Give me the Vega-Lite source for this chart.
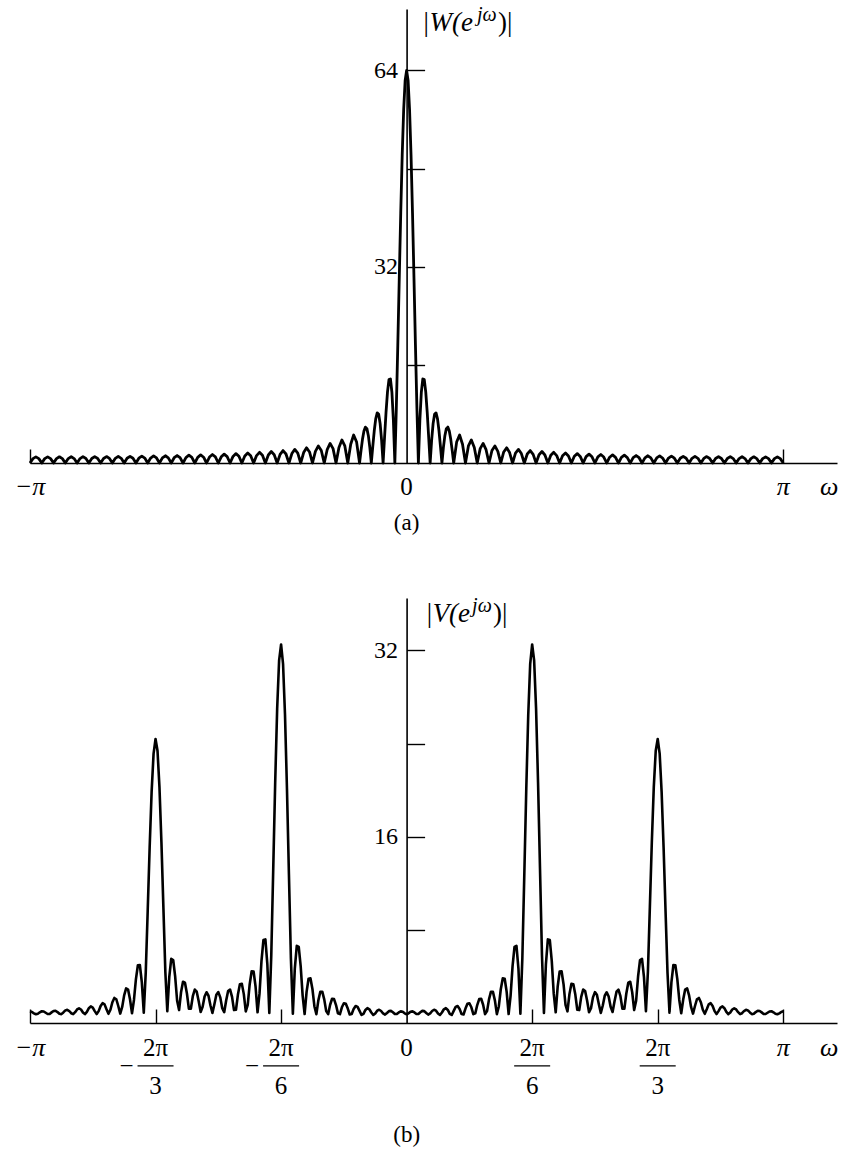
{
"$schema":"https://vega.github.io/schema/vega-lite/v6.json",
"background":"white",
"padding":{"left":14,"top":5,"right":0,"bottom":0},
"bounds":"flush",
"spacing":135,
"config":{"view":{"stroke":null},"text":{"font":"Liberation Serif","color":"black"},"axis":{"grid":false,"domainColor":"black","tickColor":"black","labelColor":"black","labelFont":"Liberation Serif"}},
"datasets":{
"a":[
{"w":-3.1416,"v":0},{"w":-3.117,"v":0.71},{"w":-3.0925,"v":1.0},{"w":-3.068,"v":0.71},{"w":-3.0434,"v":0},
{"w":-3.0189,"v":0.71},{"w":-2.9943,"v":1.0},{"w":-2.9698,"v":0.71},{"w":-2.9452,"v":0},
{"w":-2.9207,"v":0.71},{"w":-2.8962,"v":1.01},{"w":-2.8716,"v":0.71},{"w":-2.8471,"v":0},
{"w":-2.8225,"v":0.72},{"w":-2.798,"v":1.02},{"w":-2.7734,"v":0.72},{"w":-2.7489,"v":0},
{"w":-2.7243,"v":0.72},{"w":-2.6998,"v":1.03},{"w":-2.6753,"v":0.73},{"w":-2.6507,"v":0},
{"w":-2.6262,"v":0.73},{"w":-2.6016,"v":1.04},{"w":-2.5771,"v":0.74},{"w":-2.5525,"v":0},
{"w":-2.528,"v":0.74},{"w":-2.5035,"v":1.05},{"w":-2.4789,"v":0.75},{"w":-2.4544,"v":0},
{"w":-2.4298,"v":0.76},{"w":-2.4053,"v":1.07},{"w":-2.3807,"v":0.76},{"w":-2.3562,"v":0},
{"w":-2.3317,"v":0.77},{"w":-2.3071,"v":1.09},{"w":-2.2826,"v":0.78},{"w":-2.258,"v":0},
{"w":-2.2335,"v":0.79},{"w":-2.2089,"v":1.12},{"w":-2.1844,"v":0.8},{"w":-2.1598,"v":0},
{"w":-2.1353,"v":0.81},{"w":-2.1108,"v":1.15},{"w":-2.0862,"v":0.82},{"w":-2.0617,"v":0},
{"w":-2.0371,"v":0.83},{"w":-2.0126,"v":1.18},{"w":-1.988,"v":0.84},{"w":-1.9635,"v":0},
{"w":-1.939,"v":0.86},{"w":-1.9144,"v":1.22},{"w":-1.8899,"v":0.87},{"w":-1.8653,"v":0},
{"w":-1.8408,"v":0.89},{"w":-1.8162,"v":1.27},{"w":-1.7917,"v":0.91},{"w":-1.7671,"v":0},
{"w":-1.7426,"v":0.92},{"w":-1.7181,"v":1.32},{"w":-1.6935,"v":0.94},{"w":-1.669,"v":0},
{"w":-1.6444,"v":0.97},{"w":-1.6199,"v":1.38},{"w":-1.5953,"v":0.99},{"w":-1.5708,"v":0},
{"w":-1.5463,"v":1.01},{"w":-1.5217,"v":1.45},{"w":-1.4972,"v":1.04},{"w":-1.4726,"v":0},
{"w":-1.4481,"v":1.07},{"w":-1.4235,"v":1.53},{"w":-1.399,"v":1.1},{"w":-1.3744,"v":0},
{"w":-1.3499,"v":1.13},{"w":-1.3254,"v":1.63},{"w":-1.3008,"v":1.17},{"w":-1.2763,"v":0},
{"w":-1.2517,"v":1.21},{"w":-1.2272,"v":1.74},{"w":-1.2026,"v":1.25},{"w":-1.1781,"v":0},
{"w":-1.1536,"v":1.3},{"w":-1.129,"v":1.87},{"w":-1.1045,"v":1.35},{"w":-1.0799,"v":0},
{"w":-1.0554,"v":1.4},{"w":-1.0308,"v":2.03},{"w":-1.0063,"v":1.47},{"w":-0.9817,"v":0},
{"w":-0.9572,"v":1.54},{"w":-0.9327,"v":2.22},{"w":-0.9081,"v":1.61},{"w":-0.8836,"v":0},
{"w":-0.859,"v":1.7},{"w":-0.8345,"v":2.47},{"w":-0.8099,"v":1.8},{"w":-0.7854,"v":0},
{"w":-0.7609,"v":1.9},{"w":-0.7363,"v":2.78},{"w":-0.7118,"v":2.03},{"w":-0.6872,"v":0},
{"w":-0.6627,"v":2.17},{"w":-0.6381,"v":3.19},{"w":-0.6136,"v":2.34},{"w":-0.589,"v":0},
{"w":-0.5645,"v":2.54},{"w":-0.54,"v":3.75},{"w":-0.5154,"v":2.78},{"w":-0.4909,"v":0},
{"w":-0.4663,"v":3.06},{"w":-0.4418,"v":4.56},{"w":-0.4172,"v":3.41},{"w":-0.3927,"v":0},
{"w":-0.3804,"v":2.02},{"w":-0.3682,"v":3.86},{"w":-0.3559,"v":5.22},{"w":-0.3436,"v":5.85},{"w":-0.3313,"v":5.6},{"w":-0.3191,"v":4.45},{"w":-0.3068,"v":2.51},{"w":-0.2945,"v":0},
{"w":-0.2822,"v":2.72},{"w":-0.27,"v":5.25},{"w":-0.2577,"v":7.19},{"w":-0.2454,"v":8.17},{"w":-0.2332,"v":7.94},{"w":-0.2209,"v":6.42},{"w":-0.2086,"v":3.68},{"w":-0.1963,"v":0},
{"w":-0.1841,"v":4.16},{"w":-0.1718,"v":8.24},{"w":-0.1595,"v":11.59},{"w":-0.1473,"v":13.59},{"w":-0.135,"v":13.7},{"w":-0.1227,"v":11.53},{"w":-0.1104,"v":6.93},{"w":-0.0982,"v":0},
{"w":-0.0859,"v":8.91},{"w":-0.0736,"v":19.21},{"w":-0.0614,"v":30.12},{"w":-0.0491,"v":40.75},{"w":-0.0368,"v":50.19},{"w":-0.0245,"v":57.62},{"w":-0.0123,"v":62.37},
{"w":0,"v":64},
{"w":0.0123,"v":62.37},{"w":0.0245,"v":57.62},{"w":0.0368,"v":50.19},{"w":0.0491,"v":40.75},{"w":0.0614,"v":30.12},{"w":0.0736,"v":19.21},{"w":0.0859,"v":8.91},{"w":0.0982,"v":0},
{"w":0.1104,"v":6.93},{"w":0.1227,"v":11.53},{"w":0.135,"v":13.7},{"w":0.1473,"v":13.59},{"w":0.1595,"v":11.59},{"w":0.1718,"v":8.24},{"w":0.1841,"v":4.16},{"w":0.1963,"v":0},
{"w":0.2086,"v":3.68},{"w":0.2209,"v":6.42},{"w":0.2332,"v":7.94},{"w":0.2454,"v":8.17},{"w":0.2577,"v":7.19},{"w":0.27,"v":5.25},{"w":0.2822,"v":2.72},{"w":0.2945,"v":0},
{"w":0.3068,"v":2.51},{"w":0.3191,"v":4.45},{"w":0.3313,"v":5.6},{"w":0.3436,"v":5.85},{"w":0.3559,"v":5.22},{"w":0.3682,"v":3.86},{"w":0.3804,"v":2.02},{"w":0.3927,"v":0},
{"w":0.4172,"v":3.41},{"w":0.4418,"v":4.56},{"w":0.4663,"v":3.06},{"w":0.4909,"v":0},
{"w":0.5154,"v":2.78},{"w":0.54,"v":3.75},{"w":0.5645,"v":2.54},{"w":0.589,"v":0},
{"w":0.6136,"v":2.34},{"w":0.6381,"v":3.19},{"w":0.6627,"v":2.17},{"w":0.6872,"v":0},
{"w":0.7118,"v":2.03},{"w":0.7363,"v":2.78},{"w":0.7609,"v":1.9},{"w":0.7854,"v":0},
{"w":0.8099,"v":1.8},{"w":0.8345,"v":2.47},{"w":0.859,"v":1.7},{"w":0.8836,"v":0},
{"w":0.9081,"v":1.61},{"w":0.9327,"v":2.22},{"w":0.9572,"v":1.54},{"w":0.9817,"v":0},
{"w":1.0063,"v":1.47},{"w":1.0308,"v":2.03},{"w":1.0554,"v":1.4},{"w":1.0799,"v":0},
{"w":1.1045,"v":1.35},{"w":1.129,"v":1.87},{"w":1.1536,"v":1.3},{"w":1.1781,"v":0},
{"w":1.2026,"v":1.25},{"w":1.2272,"v":1.74},{"w":1.2517,"v":1.21},{"w":1.2763,"v":0},
{"w":1.3008,"v":1.17},{"w":1.3254,"v":1.63},{"w":1.3499,"v":1.13},{"w":1.3744,"v":0},
{"w":1.399,"v":1.1},{"w":1.4235,"v":1.53},{"w":1.4481,"v":1.07},{"w":1.4726,"v":0},
{"w":1.4972,"v":1.04},{"w":1.5217,"v":1.45},{"w":1.5463,"v":1.01},{"w":1.5708,"v":0},
{"w":1.5953,"v":0.99},{"w":1.6199,"v":1.38},{"w":1.6444,"v":0.97},{"w":1.669,"v":0},
{"w":1.6935,"v":0.94},{"w":1.7181,"v":1.32},{"w":1.7426,"v":0.92},{"w":1.7671,"v":0},
{"w":1.7917,"v":0.91},{"w":1.8162,"v":1.27},{"w":1.8408,"v":0.89},{"w":1.8653,"v":0},
{"w":1.8899,"v":0.87},{"w":1.9144,"v":1.22},{"w":1.939,"v":0.86},{"w":1.9635,"v":0},
{"w":1.988,"v":0.84},{"w":2.0126,"v":1.18},{"w":2.0371,"v":0.83},{"w":2.0617,"v":0},
{"w":2.0862,"v":0.82},{"w":2.1108,"v":1.15},{"w":2.1353,"v":0.81},{"w":2.1598,"v":0},
{"w":2.1844,"v":0.8},{"w":2.2089,"v":1.12},{"w":2.2335,"v":0.79},{"w":2.258,"v":0},
{"w":2.2826,"v":0.78},{"w":2.3071,"v":1.09},{"w":2.3317,"v":0.77},{"w":2.3562,"v":0},
{"w":2.3807,"v":0.76},{"w":2.4053,"v":1.07},{"w":2.4298,"v":0.76},{"w":2.4544,"v":0},
{"w":2.4789,"v":0.75},{"w":2.5035,"v":1.05},{"w":2.528,"v":0.74},{"w":2.5525,"v":0},
{"w":2.5771,"v":0.74},{"w":2.6016,"v":1.04},{"w":2.6262,"v":0.73},{"w":2.6507,"v":0},
{"w":2.6753,"v":0.73},{"w":2.6998,"v":1.03},{"w":2.7243,"v":0.72},{"w":2.7489,"v":0},
{"w":2.7734,"v":0.72},{"w":2.798,"v":1.02},{"w":2.8225,"v":0.72},{"w":2.8471,"v":0},
{"w":2.8716,"v":0.71},{"w":2.8962,"v":1.01},{"w":2.9207,"v":0.71},{"w":2.9452,"v":0},
{"w":2.9698,"v":0.71},{"w":2.9943,"v":1.0},{"w":3.0189,"v":0.71},{"w":3.0434,"v":0},
{"w":3.068,"v":0.71},{"w":3.0925,"v":1.0},{"w":3.117,"v":0.71},{"w":3.1416,"v":0}
],
"b":[
{"w":-3.1416,"v":1.0},{"w":-3.1252,"v":0.95},{"w":-3.1089,"v":0.83},{"w":-3.0925,"v":0.75},{"w":-3.0761,"v":0.8},{"w":-3.0598,"v":0.92},
{"w":-3.0434,"v":1.01},{"w":-3.027,"v":0.99},{"w":-3.0107,"v":0.88},{"w":-2.9943,"v":0.77},{"w":-2.978,"v":0.78},{"w":-2.9616,"v":0.91},
{"w":-2.9452,"v":1.03},{"w":-2.9289,"v":1.05},{"w":-2.9125,"v":0.94},{"w":-2.8962,"v":0.79},{"w":-2.8798,"v":0.76},{"w":-2.8634,"v":0.91},
{"w":-2.8471,"v":1.08},{"w":-2.8307,"v":1.13},{"w":-2.8143,"v":1.03},{"w":-2.798,"v":0.84},{"w":-2.7816,"v":0.76},{"w":-2.7653,"v":0.93},
{"w":-2.7489,"v":1.16},{"w":-2.7325,"v":1.26},{"w":-2.7162,"v":1.16},{"w":-2.6998,"v":0.91},{"w":-2.6834,"v":0.76},{"w":-2.6671,"v":0.96},
{"w":-2.6507,"v":1.27},{"w":-2.6344,"v":1.43},{"w":-2.618,"v":1.33},{"w":-2.6016,"v":1.02},{"w":-2.5853,"v":0.77},{"w":-2.5689,"v":1.02},
{"w":-2.5525,"v":1.46},{"w":-2.5362,"v":1.7},{"w":-2.5198,"v":1.6},{"w":-2.5035,"v":1.18},{"w":-2.4871,"v":0.79},{"w":-2.4707,"v":1.14},
{"w":-2.4544,"v":1.78},{"w":-2.438,"v":2.15},{"w":-2.4216,"v":2.04},{"w":-2.4053,"v":1.46},{"w":-2.3889,"v":0.81},{"w":-2.3726,"v":1.38},
{"w":-2.3562,"v":2.37},{"w":-2.3398,"v":2.97},{"w":-2.3235,"v":2.87},{"w":-2.3071,"v":2.01},{"w":-2.2907,"v":0.84},{"w":-2.2744,"v":1.98},
{"w":-2.258,"v":3.77},{"w":-2.2417,"v":4.96},{"w":-2.2253,"v":4.98},{"w":-2.2089,"v":3.51},{"w":-2.1926,"v":0.89},{"w":-2.1762,"v":4.31},
{"w":-2.1598,"v":9.62},{"w":-2.1435,"v":15.09},{"w":-2.1271,"v":19.85},{"w":-2.1108,"v":23.14},{"w":-2.0944,"v":24.39},{"w":-2.078,"v":23.38},
{"w":-2.0617,"v":20.26},{"w":-2.0453,"v":15.53},{"w":-2.0289,"v":9.93},{"w":-2.0126,"v":4.38},{"w":-1.9962,"v":1.02},{"w":-1.9799,"v":3.94},
{"w":-1.9635,"v":5.51},{"w":-1.9471,"v":5.41},{"w":-1.9308,"v":4.0},{"w":-1.9144,"v":1.91},{"w":-1.898,"v":1.11},{"w":-1.8817,"v":2.64},
{"w":-1.8653,"v":3.54},{"w":-1.849,"v":3.46},{"w":-1.8326,"v":2.53},{"w":-1.8162,"v":1.22},{"w":-1.7999,"v":1.23},{"w":-1.7835,"v":2.3},
{"w":-1.7671,"v":2.87},{"w":-1.7508,"v":2.69},{"w":-1.7344,"v":1.87},{"w":-1.7181,"v":0.95},{"w":-1.7017,"v":1.39},{"w":-1.6853,"v":2.27},
{"w":-1.669,"v":2.64},{"w":-1.6526,"v":2.34},{"w":-1.6362,"v":1.5},{"w":-1.6199,"v":0.87},{"w":-1.6035,"v":1.61},{"w":-1.5872,"v":2.42},
{"w":-1.5708,"v":2.65},{"w":-1.5544,"v":2.2},{"w":-1.5381,"v":1.27},{"w":-1.5217,"v":0.93},{"w":-1.5053,"v":1.93},{"w":-1.489,"v":2.74},
{"w":-1.4726,"v":2.87},{"w":-1.4563,"v":2.24},{"w":-1.4399,"v":1.11},{"w":-1.4235,"v":1.14},{"w":-1.4072,"v":2.44},{"w":-1.3908,"v":3.32},
{"w":-1.3744,"v":3.36},{"w":-1.3581,"v":2.48},{"w":-1.3417,"v":1.0},{"w":-1.3254,"v":1.56},{"w":-1.309,"v":3.33},{"w":-1.2926,"v":4.44},
{"w":-1.2763,"v":4.41},{"w":-1.2599,"v":3.11},{"w":-1.2435,"v":0.92},{"w":-1.2272,"v":2.52},{"w":-1.2108,"v":5.31},{"w":-1.1945,"v":7.12},
{"w":-1.1781,"v":7.18},{"w":-1.1617,"v":5.03},{"w":-1.1454,"v":0.86},{"w":-1.129,"v":5.83},{"w":-1.1126,"v":13.24},{"w":-1.0963,"v":20.67},
{"w":-1.0799,"v":26.98},{"w":-1.0636,"v":31.15},{"w":-1.0472,"v":32.51},{"w":-1.0308,"v":30.85},{"w":-1.0145,"v":26.47},{"w":-0.9981,"v":20.1},
{"w":-0.9817,"v":12.76},{"w":-0.9654,"v":5.59},{"w":-0.949,"v":0.79},{"w":-0.9327,"v":4.67},{"w":-0.9163,"v":6.63},{"w":-0.8999,"v":6.53},
{"w":-0.8836,"v":4.86},{"w":-0.8672,"v":2.33},{"w":-0.8508,"v":0.77},{"w":-0.8345,"v":2.67},{"w":-0.8181,"v":3.8},{"w":-0.8018,"v":3.83},
{"w":-0.7854,"v":2.9},{"w":-0.769,"v":1.42},{"w":-0.7527,"v":0.76},{"w":-0.7363,"v":1.94},{"w":-0.7199,"v":2.68},{"w":-0.7036,"v":2.69},
{"w":-0.6872,"v":2.03},{"w":-0.6709,"v":1.02},{"w":-0.6545,"v":0.76},{"w":-0.6381,"v":1.57},{"w":-0.6218,"v":2.08},{"w":-0.6054,"v":2.05},
{"w":-0.589,"v":1.54},{"w":-0.5727,"v":0.83},{"w":-0.5563,"v":0.76},{"w":-0.54,"v":1.35},{"w":-0.5236,"v":1.7},{"w":-0.5072,"v":1.65},
{"w":-0.4909,"v":1.24},{"w":-0.4745,"v":0.73},{"w":-0.4581,"v":0.77},{"w":-0.4418,"v":1.21},{"w":-0.4254,"v":1.46},{"w":-0.4091,"v":1.38},
{"w":-0.3927,"v":1.04},{"w":-0.3763,"v":0.69},{"w":-0.36,"v":0.79},{"w":-0.3436,"v":1.12},{"w":-0.3272,"v":1.28},{"w":-0.3109,"v":1.18},
{"w":-0.2945,"v":0.9},{"w":-0.2782,"v":0.69},{"w":-0.2618,"v":0.82},{"w":-0.2454,"v":1.06},{"w":-0.2291,"v":1.14},{"w":-0.2127,"v":1.03},
{"w":-0.1963,"v":0.82},{"w":-0.18,"v":0.72},{"w":-0.1636,"v":0.86},{"w":-0.1473,"v":1.02},{"w":-0.1309,"v":1.04},{"w":-0.1145,"v":0.92},
{"w":-0.0982,"v":0.77},{"w":-0.0818,"v":0.77},{"w":-0.0654,"v":0.91},{"w":-0.0491,"v":1.0},{"w":-0.0327,"v":0.97},{"w":-0.0164,"v":0.83},
{"w":0,"v":0.75},
{"w":0.0164,"v":0.83},{"w":0.0327,"v":0.97},{"w":0.0491,"v":1.0},{"w":0.0654,"v":0.91},{"w":0.0818,"v":0.77},{"w":0.0982,"v":0.77},
{"w":0.1145,"v":0.92},{"w":0.1309,"v":1.04},{"w":0.1473,"v":1.02},{"w":0.1636,"v":0.86},{"w":0.18,"v":0.72},{"w":0.1963,"v":0.82},
{"w":0.2127,"v":1.03},{"w":0.2291,"v":1.14},{"w":0.2454,"v":1.06},{"w":0.2618,"v":0.82},{"w":0.2782,"v":0.69},{"w":0.2945,"v":0.9},
{"w":0.3109,"v":1.18},{"w":0.3272,"v":1.28},{"w":0.3436,"v":1.12},{"w":0.36,"v":0.79},{"w":0.3763,"v":0.69},{"w":0.3927,"v":1.04},
{"w":0.4091,"v":1.38},{"w":0.4254,"v":1.46},{"w":0.4418,"v":1.21},{"w":0.4581,"v":0.77},{"w":0.4745,"v":0.73},{"w":0.4909,"v":1.24},
{"w":0.5072,"v":1.65},{"w":0.5236,"v":1.7},{"w":0.54,"v":1.35},{"w":0.5563,"v":0.76},{"w":0.5727,"v":0.83},{"w":0.589,"v":1.54},
{"w":0.6054,"v":2.05},{"w":0.6218,"v":2.08},{"w":0.6381,"v":1.57},{"w":0.6545,"v":0.76},{"w":0.6709,"v":1.02},{"w":0.6872,"v":2.03},
{"w":0.7036,"v":2.69},{"w":0.7199,"v":2.68},{"w":0.7363,"v":1.94},{"w":0.7527,"v":0.76},{"w":0.769,"v":1.42},{"w":0.7854,"v":2.9},
{"w":0.8018,"v":3.83},{"w":0.8181,"v":3.8},{"w":0.8345,"v":2.67},{"w":0.8508,"v":0.77},{"w":0.8672,"v":2.33},{"w":0.8836,"v":4.86},
{"w":0.8999,"v":6.53},{"w":0.9163,"v":6.63},{"w":0.9327,"v":4.67},{"w":0.949,"v":0.79},{"w":0.9654,"v":5.59},{"w":0.9817,"v":12.76},
{"w":0.9981,"v":20.1},{"w":1.0145,"v":26.47},{"w":1.0308,"v":30.85},{"w":1.0472,"v":32.51},{"w":1.0636,"v":31.15},{"w":1.0799,"v":26.98},
{"w":1.0963,"v":20.67},{"w":1.1126,"v":13.24},{"w":1.129,"v":5.83},{"w":1.1454,"v":0.86},{"w":1.1617,"v":5.03},{"w":1.1781,"v":7.18},
{"w":1.1945,"v":7.12},{"w":1.2108,"v":5.31},{"w":1.2272,"v":2.52},{"w":1.2435,"v":0.92},{"w":1.2599,"v":3.11},{"w":1.2763,"v":4.41},
{"w":1.2926,"v":4.44},{"w":1.309,"v":3.33},{"w":1.3254,"v":1.56},{"w":1.3417,"v":1.0},{"w":1.3581,"v":2.48},{"w":1.3744,"v":3.36},
{"w":1.3908,"v":3.32},{"w":1.4072,"v":2.44},{"w":1.4235,"v":1.14},{"w":1.4399,"v":1.11},{"w":1.4563,"v":2.24},{"w":1.4726,"v":2.87},
{"w":1.489,"v":2.74},{"w":1.5053,"v":1.93},{"w":1.5217,"v":0.93},{"w":1.5381,"v":1.27},{"w":1.5544,"v":2.2},{"w":1.5708,"v":2.65},
{"w":1.5872,"v":2.42},{"w":1.6035,"v":1.61},{"w":1.6199,"v":0.87},{"w":1.6362,"v":1.5},{"w":1.6526,"v":2.34},{"w":1.669,"v":2.64},
{"w":1.6853,"v":2.27},{"w":1.7017,"v":1.39},{"w":1.7181,"v":0.95},{"w":1.7344,"v":1.87},{"w":1.7508,"v":2.69},{"w":1.7671,"v":2.87},
{"w":1.7835,"v":2.3},{"w":1.7999,"v":1.23},{"w":1.8162,"v":1.22},{"w":1.8326,"v":2.53},{"w":1.849,"v":3.46},{"w":1.8653,"v":3.54},
{"w":1.8817,"v":2.64},{"w":1.898,"v":1.11},{"w":1.9144,"v":1.91},{"w":1.9308,"v":4.0},{"w":1.9471,"v":5.41},{"w":1.9635,"v":5.51},
{"w":1.9799,"v":3.94},{"w":1.9962,"v":1.02},{"w":2.0126,"v":4.38},{"w":2.0289,"v":9.93},{"w":2.0453,"v":15.53},{"w":2.0617,"v":20.26},
{"w":2.078,"v":23.38},{"w":2.0944,"v":24.39},{"w":2.1108,"v":23.14},{"w":2.1271,"v":19.85},{"w":2.1435,"v":15.09},{"w":2.1598,"v":9.62},
{"w":2.1762,"v":4.31},{"w":2.1926,"v":0.89},{"w":2.2089,"v":3.51},{"w":2.2253,"v":4.98},{"w":2.2417,"v":4.96},{"w":2.258,"v":3.77},
{"w":2.2744,"v":1.98},{"w":2.2907,"v":0.84},{"w":2.3071,"v":2.01},{"w":2.3235,"v":2.87},{"w":2.3398,"v":2.97},{"w":2.3562,"v":2.37},
{"w":2.3726,"v":1.38},{"w":2.3889,"v":0.81},{"w":2.4053,"v":1.46},{"w":2.4216,"v":2.04},{"w":2.438,"v":2.15},{"w":2.4544,"v":1.78},
{"w":2.4707,"v":1.14},{"w":2.4871,"v":0.79},{"w":2.5035,"v":1.18},{"w":2.5198,"v":1.6},{"w":2.5362,"v":1.7},{"w":2.5525,"v":1.46},
{"w":2.5689,"v":1.02},{"w":2.5853,"v":0.77},{"w":2.6016,"v":1.02},{"w":2.618,"v":1.33},{"w":2.6344,"v":1.43},{"w":2.6507,"v":1.27},
{"w":2.6671,"v":0.96},{"w":2.6834,"v":0.76},{"w":2.6998,"v":0.91},{"w":2.7162,"v":1.16},{"w":2.7325,"v":1.26},{"w":2.7489,"v":1.16},
{"w":2.7653,"v":0.93},{"w":2.7816,"v":0.76},{"w":2.798,"v":0.84},{"w":2.8143,"v":1.03},{"w":2.8307,"v":1.13},{"w":2.8471,"v":1.08},
{"w":2.8634,"v":0.91},{"w":2.8798,"v":0.76},{"w":2.8962,"v":0.79},{"w":2.9125,"v":0.94},{"w":2.9289,"v":1.05},{"w":2.9452,"v":1.03},
{"w":2.9616,"v":0.91},{"w":2.978,"v":0.78},{"w":2.9943,"v":0.77},{"w":3.0107,"v":0.88},{"w":3.027,"v":0.99},{"w":3.0434,"v":1.01},
{"w":3.0598,"v":0.92},{"w":3.0761,"v":0.8},{"w":3.0925,"v":0.75},{"w":3.1089,"v":0.83},{"w":3.1252,"v":0.95},{"w":3.1416,"v":1.0}
]
},
"vconcat":[
{
"width":807,"height":454,
"layer":[
{"data":{"name":"a"},"mark":{"type":"line","color":"black","strokeWidth":2.8,"strokeJoin":"round"},
 "encoding":{
  "x":{"field":"w","type":"quantitative","scale":{"domain":[-3.1416,3.59],"nice":false,"zero":false},
       "axis":{"orient":"bottom","values":[-3.14159,3.14159],"tickSize":-14,"tickWidth":1.4,"domainWidth":1.6,"labels":false,"title":null}},
  "y":{"field":"v","type":"quantitative","scale":{"domain":[0,74],"nice":false},
       "axis":{"orient":"left","offset":-376.6,"values":[16,32,48,64],"tickSize":-18,"tickWidth":1.4,"domainWidth":1.6,"labelExpr":"datum.value==32||datum.value==64?datum.label:''","labelFontSize":24,"labelPadding":27,"title":null}}}},
{"data":{"values":[{"t":-3.14159,"s":"−π"},{"t":3.14159,"s":"π"},{"t":3.525,"s":"ω"}]},"mark":{"type":"text","fontSize":26,"fontStyle":"italic","baseline":"middle"},
 "encoding":{"x":{"field":"t","type":"quantitative"},"y":{"datum":-3.9},"text":{"field":"s"}}},
{"data":{"values":[{}]},"mark":{"type":"text","fontSize":25,"baseline":"middle"},"encoding":{"x":{"datum":0},"y":{"datum":-3.9},"text":{"value":"0"}}},
{"data":{"values":[{}]},"mark":{"type":"text","fontSize":23,"baseline":"middle"},"encoding":{"x":{"datum":0},"y":{"datum":-9.8},"text":{"value":"(a)"}}},
{"data":{"values":[{}]},"mark":{"type":"text","fontSize":27,"fontStyle":"italic","align":"left","baseline":"middle"},"encoding":{"x":{"datum":0.129},"y":{"datum":71.7},"text":{"value":"|W(e"}}},
{"data":{"values":[{}]},"mark":{"type":"text","fontSize":20,"fontStyle":"italic","align":"left","baseline":"middle"},"encoding":{"x":{"datum":0.587},"y":{"datum":73.0},"text":{"value":"jω"}}},
{"data":{"values":[{}]},"mark":{"type":"text","fontSize":27,"align":"left","baseline":"middle"},"encoding":{"x":{"datum":0.762},"y":{"datum":71.7},"text":{"value":")|"}}}
]
},
{
"width":807,"height":425,
"layer":[
{"data":{"name":"b"},"mark":{"type":"line","color":"black","strokeWidth":2.6,"strokeJoin":"round"},
 "encoding":{
  "x":{"field":"w","type":"quantitative","scale":{"domain":[-3.1416,3.59],"nice":false,"zero":false},
       "axis":{"orient":"bottom","values":[-3.14159,-2.0944,-1.0472,1.0472,2.0944,3.14159],"tickSize":-14,"tickWidth":1.4,"domainWidth":1.6,"labels":false,"title":null}},
  "y":{"field":"v","type":"quantitative","scale":{"domain":[0,36.5],"nice":false},
       "axis":{"orient":"left","offset":-376.6,"values":[8,16,24,32],"tickSize":-18,"tickWidth":1.4,"domainWidth":1.6,"labelExpr":"datum.value==16||datum.value==32?datum.label:''","labelFontSize":24,"labelPadding":27,"title":null}}}},
{"data":{"values":[{"t":-3.14159,"s":"−π"},{"t":3.14159,"s":"π"},{"t":3.525,"s":"ω"}]},"mark":{"type":"text","fontSize":26,"fontStyle":"italic","baseline":"middle"},
 "encoding":{"x":{"field":"t","type":"quantitative"},"y":{"datum":-2.15},"text":{"field":"s"}}},
{"data":{"values":[{}]},"mark":{"type":"text","fontSize":25,"baseline":"middle"},"encoding":{"x":{"datum":0},"y":{"datum":-2.15},"text":{"value":"0"}}},
{"data":{"values":[{"t":-2.0944,"d":"3"},{"t":-1.0472,"d":"6"},{"t":1.0472,"d":"6"},{"t":2.0944,"d":"3"}]},
 "layer":[
  {"mark":{"type":"text","fontSize":25,"baseline":"middle"},"encoding":{"x":{"field":"t","type":"quantitative"},"y":{"datum":-2.15},"text":{"value":"2π"}}},
  {"mark":{"type":"rule","color":"black","strokeWidth":1.3,"xOffset":-18,"x2Offset":18},"encoding":{"x":{"field":"t","type":"quantitative"},"x2":{"field":"t"},"y":{"datum":-3.69}}},
  {"mark":{"type":"text","fontSize":25,"baseline":"middle"},"encoding":{"x":{"field":"t","type":"quantitative"},"y":{"datum":-5.41},"text":{"field":"d"}}},
  {"transform":[{"filter":"datum.t < 0"}],"mark":{"type":"text","fontSize":25,"baseline":"middle","dx":-29},"encoding":{"x":{"field":"t","type":"quantitative"},"y":{"datum":-3.69},"text":{"value":"−"}}}
 ]},
{"data":{"values":[{}]},"mark":{"type":"text","fontSize":23,"baseline":"middle"},"encoding":{"x":{"datum":0},"y":{"datum":-9.62},"text":{"value":"(b)"}}},
{"data":{"values":[{}]},"mark":{"type":"text","fontSize":27,"fontStyle":"italic","align":"left","baseline":"middle"},"encoding":{"x":{"datum":0.155},"y":{"datum":35.13},"text":{"value":"|V(e"}}},
{"data":{"values":[{}]},"mark":{"type":"text","fontSize":20,"fontStyle":"italic","align":"left","baseline":"middle"},"encoding":{"x":{"datum":0.546},"y":{"datum":35.8},"text":{"value":"jω"}}},
{"data":{"values":[{}]},"mark":{"type":"text","fontSize":27,"align":"left","baseline":"middle"},"encoding":{"x":{"datum":0.721},"y":{"datum":35.13},"text":{"value":")|"}}}
]
}
]
}
